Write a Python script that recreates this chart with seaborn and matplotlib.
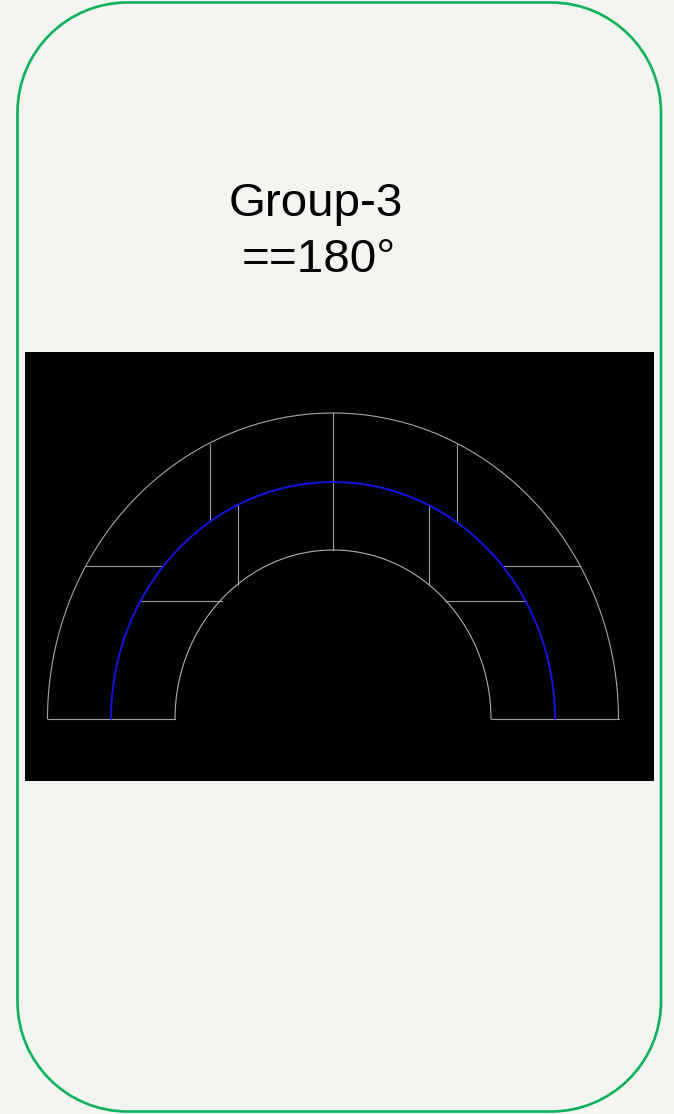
import numpy as np
import pandas as pd
import matplotlib
matplotlib.use("Agg")
import matplotlib.pyplot as plt
from matplotlib.patches import PathPatch
from matplotlib.path import Path
from matplotlib.transforms import Affine2D
import seaborn as sns

title_lines = ["Group-3", "==180°"]

# Semi-ellipse radii (horizontal, vertical)
arc_names = ["inner", "middle", "outer"]
arc_rx = [158.0, 222.0, 285.5]
arc_ry = [169.0, 237.0, 306.0]
arc_colors = ["#b0b0b0", "#1414e0", "#a8a8a8"]
arc_widths = [0.8, 1.4, 0.8]

# Straight divider segments: x0, y0, x1, y1
seg_x0 = [-285.5, 157.5, -123.5, 0.0, 123.5, -95.5, 95.5, -247.5, 169.5, -192.5, 111.5]
seg_y0 = [0.0, 0.0, 275.0, 169.0, 275.0, 134.0, 134.0, 153.0, 153.0, 118.0, 118.0]
seg_x1 = [-158.0, 285.5, -123.5, 0.0, 123.5, -95.5, 95.5, -170.5, 246.5, -111.5, 192.5]
seg_y1 = [0.0, 0.0, 198.0, 306.0, 198.0, 214.0, 214.0, 153.0, 153.0, 118.0, 118.0]
SEG_COLOR = "#a0a0a0"

sns.set_theme(style="white")
plt.rcParams["font.family"] = ["Liberation Sans", "DejaVu Sans"]

W, H = 674, 1114
BG = "#F4F4F0"
fig = plt.figure(figsize=(W / 100, H / 100), dpi=100, facecolor=BG)

# Rounded frame with true circular corners, in pixel units
L, R, T, B, RAD = 17.5, 661.0, 2.5, 1111.5, 110.0
K = RAD * 0.5523
verts = [
    (L + RAD, T), (R - RAD, T),
    (R - RAD + K, T), (R, T + RAD - K), (R, T + RAD),
    (R, B - RAD),
    (R, B - RAD + K), (R - RAD + K, B), (R - RAD, B),
    (L + RAD, B),
    (L + RAD - K, B), (L, B - RAD + K), (L, B - RAD),
    (L, T + RAD),
    (L, T + RAD - K), (L + RAD - K, T), (L + RAD, T),
]
codes = [Path.MOVETO, Path.LINETO,
         Path.CURVE4, Path.CURVE4, Path.CURVE4, Path.LINETO,
         Path.CURVE4, Path.CURVE4, Path.CURVE4, Path.LINETO,
         Path.CURVE4, Path.CURVE4, Path.CURVE4, Path.LINETO,
         Path.CURVE4, Path.CURVE4, Path.CURVE4]
frame = PathPatch(Path(verts, codes),
                  transform=Affine2D().scale(1 / W, -1 / H).translate(0, 1) + fig.transFigure,
                  facecolor="none", edgecolor="#0DB25B", linewidth=1.9)
fig.patches.append(frame)
frame.set_figure(fig)

ax = fig.add_axes([25 / W, (H - 781) / H, 629 / W, 429 / H], facecolor="black")
ax.set_xlim(-308.0, 321.0)
ax.set_ylim(-62, 367)
ax.set_xticks([])
ax.set_yticks([])
for s in ax.spines.values():
    s.set_visible(False)

theta = np.linspace(0, np.pi, 721)
for name, rx, ry, col, lw in zip(arc_names, arc_rx, arc_ry, arc_colors, arc_widths):
    df = pd.DataFrame({"x": rx * np.cos(theta), "y": ry * np.sin(theta)})
    sns.lineplot(data=df, x="x", y="y", sort=False, estimator=None, color=col,
                 linewidth=lw, ax=ax, zorder=3 if name == "middle" else 2)

for x0, y0, x1, y1 in zip(seg_x0, seg_y0, seg_x1, seg_y1):
    df = pd.DataFrame({"x": [x0, x1], "y": [y0, y1]})
    sns.lineplot(data=df, x="x", y="y", sort=False, estimator=None, color=SEG_COLOR,
                 linewidth=0.8, ax=ax, zorder=1)
ax.set_xlabel("")
ax.set_ylabel("")

fig.text(316 / W, 1 - 216 / H, title_lines[0], ha="center", va="baseline",
         fontsize=34.2, color="black")
fig.text(319 / W, 1 - 272 / H, title_lines[1], ha="center", va="baseline",
         fontsize=34.2, color="black")

fig.savefig("out.png", dpi=100, facecolor=BG)
